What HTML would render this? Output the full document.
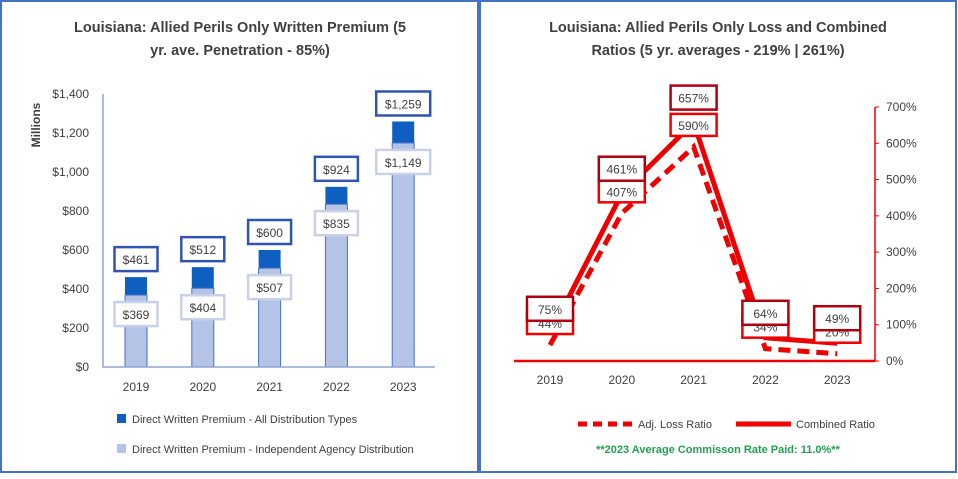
<!DOCTYPE html>
<html><head><meta charset="utf-8"><style>
body{margin:0;background:#fff;font-family:"Liberation Sans",sans-serif}
svg text{font-family:"Liberation Sans",sans-serif}
</style></head><body>
<svg id="s" width="958" height="474" viewBox="0 0 958 474" xmlns="http://www.w3.org/2000/svg">
<rect x="1" y="1" width="477" height="471" fill="#fff" stroke="#4472c4" stroke-width="2"/>
<rect x="480" y="1" width="476" height="471" fill="#fff" stroke="#4472c4" stroke-width="2"/>
<text x="240" y="32" text-anchor="middle" font-size="14.5" font-weight="bold" fill="#404040">Louisiana: Allied Perils Only Written Premium (5</text>
<text x="240" y="55" text-anchor="middle" font-size="14.5" font-weight="bold" fill="#404040">yr. ave. Penetration - 85%)</text>
<text x="718" y="32" text-anchor="middle" font-size="14.5" font-weight="bold" fill="#404040">Louisiana: Allied Perils Only Loss and Combined</text>
<text x="718" y="55" text-anchor="middle" font-size="14.5" font-weight="bold" fill="#404040">Ratios (5 yr. averages - 219% | 261%)</text>
<text transform="translate(40,125) rotate(-90)" text-anchor="middle" font-size="12" font-weight="bold" fill="#404040">Millions</text>
<g id="L"></g><g id="R"></g>
<rect x="117" y="414" width="9" height="9" fill="#0f5fc0"/>
<text x="132" y="423" font-size="11" fill="#404040">Direct Written Premium - All Distribution Types</text>
<rect x="117" y="444" width="9" height="9" fill="#b4c3e6"/>
<text x="132" y="453" font-size="11" fill="#404040">Direct Written Premium - Independent Agency Distribution</text>
<line x1="578" y1="424" x2="634" y2="424" stroke="#e00" stroke-width="5" stroke-dasharray="9,6"/>
<text x="638" y="428" font-size="11" fill="#404040">Adj. Loss Ratio</text>
<line x1="736" y1="424" x2="791" y2="424" stroke="#e00" stroke-width="5"/>
<text x="796" y="428" font-size="11" fill="#404040">Combined Ratio</text>
<text x="718" y="453" text-anchor="middle" font-size="11" font-weight="bold" fill="#22a050">**2023 Average Commisson Rate Paid: 11.0%**</text>
</svg>
<script>
const years=["2019","2020","2021","2022","2023"];
const allDist=[461,512,600,924,1259];
const agency=[369,404,507,835,1149];
const leftTicks=[0,200,400,600,800,1000,1200,1400];
const lossRatio=[44,407,590,34,20];
const combined=[75,461,657,64,49];
const rightTicks=[0,100,200,300,400,500,600,700];
const NS="http://www.w3.org/2000/svg";
function mk(p,t,a,txt){const e=document.createElementNS(NS,t);for(const k in a)e.setAttribute(k,a[k]);if(txt!=null)e.textContent=txt;p.appendChild(e);return e;}
const L=document.getElementById('L'),R=document.getElementById('R');
const ly=v=>367-v*(273/1400), lx=i=>136+i*66.8;
for(const t of leftTicks){const e=mk(L,'text',{x:89,y:ly(t)+4,'text-anchor':'end','font-size':12,fill:'#404040'},'$'+t.toLocaleString('en-US'));

}
years.forEach((y,i)=>{const cx=lx(i);
let b=mk(L,'rect',{x:cx-11,y:ly(allDist[i]),width:22,height:ly(0)-ly(allDist[i]),fill:'#0f5fc0'});


b=mk(L,'rect',{x:cx-11,y:ly(agency[i]),width:22,height:ly(0)-ly(agency[i]),fill:'#b4c3e6',stroke:'#4472c4','stroke-width':1});


const w=allDist[i]>=1000?54:43;
let g=mk(L,'rect',{x:cx-w/2,y:ly(allDist[i])-30,width:w,height:24,fill:'#fff',stroke:'#2f55b0','stroke-width':2.5});


mk(L,'text',{x:cx,y:ly(allDist[i])-13,'text-anchor':'middle','font-size':12,fill:'#404040'},'$'+allDist[i].toLocaleString('en-US'));
g=mk(L,'rect',{x:cx-w/2,y:ly(agency[i])+7,width:w,height:24,fill:'#fff',stroke:'#c8d1e8','stroke-width':2.5});


mk(L,'text',{x:cx,y:ly(agency[i])+24,'text-anchor':'middle','font-size':12,fill:'#404040'},'$'+agency[i].toLocaleString('en-US'));
const t=mk(L,'text',{x:cx,y:391,'text-anchor':'middle','font-size':12,fill:'#404040'},y);

});
let a=mk(L,'polyline',{points:'103,94 103,367 435,367',fill:'none',stroke:'#8fa3d6','stroke-width':1.5});


// right
const ry=v=>361-v*(254/700), rx=i=>550+i*71.8;
a=mk(R,'line',{x1:514,y1:361,x2:875,y2:361,stroke:'#e00','stroke-width':2.5});


a=mk(R,'line',{x1:875,y1:107,x2:875,y2:361,stroke:'#e00','stroke-width':1.5});


for(const t of rightTicks){mk(R,'line',{x1:875,y1:ry(t),x2:879,y2:ry(t),stroke:'#e00'});
const e=mk(R,'text',{x:886,y:ry(t)+4,'font-size':12,fill:'#404040'},t+'%');

}
let p=mk(R,'polyline',{points:lossRatio.map((v,i)=>rx(i)+','+ry(v)).join(' '),fill:'none',stroke:'#e00','stroke-width':5,'stroke-dasharray':'12,7'});


p=mk(R,'polyline',{points:combined.map((v,i)=>rx(i)+','+ry(v)).join(' '),fill:'none',stroke:'#e00','stroke-width':5});


years.forEach((y,i)=>{const cx=rx(i);
const lyb=ry(lossRatio[i])-33;
let g=mk(R,'rect',{x:cx-23,y:lyb,width:46,height:22,fill:'#fff',stroke:'#e00','stroke-width':2.5});


mk(R,'text',{x:cx,y:lyb+16,'text-anchor':'middle','font-size':12,fill:'#404040'},lossRatio[i]+'%');
const cy=ry(combined[i])-37;
g=mk(R,'rect',{x:cx-23,y:cy,width:46,height:24,fill:'#fff',stroke:'#b00010','stroke-width':2.5});


mk(R,'text',{x:cx,y:cy+17,'text-anchor':'middle','font-size':12,fill:'#404040'},combined[i]+'%');
const t=mk(R,'text',{x:cx,y:384,'text-anchor':'middle','font-size':12,fill:'#404040'},y);

});
</script>
</body></html>
